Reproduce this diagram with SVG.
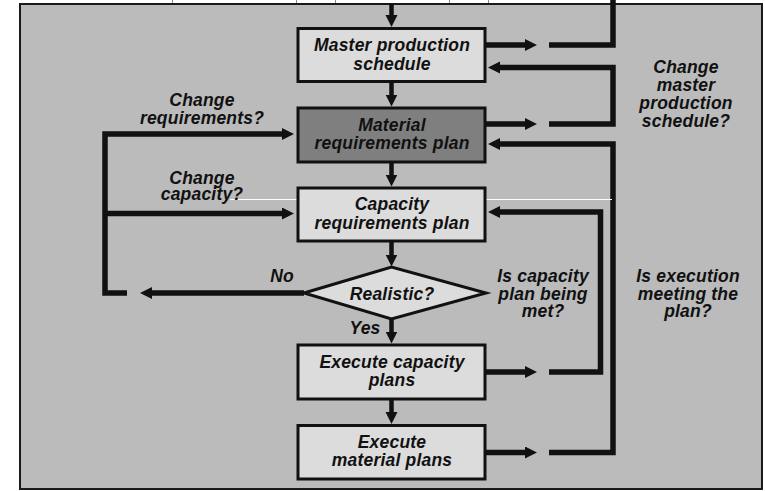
<svg xmlns="http://www.w3.org/2000/svg" width="765" height="491" viewBox="0 0 765 491">
  <style>
    .frame { fill: #bbbbbb; stroke: #1a1a1a; stroke-width: 2; }
    .tick { stroke: #8a8a8a; stroke-width: 1; }
    .box { fill: #dcdcdc; stroke: #111111; stroke-width: 3; }
    .box.dark { fill: #7f7f7f; }
    .flow { fill: none; stroke: #111111; stroke-width: 4.5; }
    .loop { fill: none; stroke: #111111; stroke-width: 5.5; stroke-linejoin: miter; }
    text { font-family: "Liberation Sans", Arial, Helvetica, sans-serif; font-size: 17.5px; font-weight: bold; font-style: italic; fill: #111111; text-anchor: middle; letter-spacing: 0.2px; }
  </style>
  <defs>
    <marker id="head" markerUnits="userSpaceOnUse" markerWidth="13" markerHeight="13" refX="1" refY="6" orient="auto">
      <path d="M0,0 L12,6 L0,12 Z" fill="#111111"/>
    </marker>
  </defs>

  <!-- panel and leftover ruling marks above it -->
  <g id="panel">
    <line class="tick" x1="172.5" y1="0" x2="172.5" y2="4"/>
    <line class="tick" x1="296.5" y1="0" x2="296.5" y2="4"/>
    <line class="tick" x1="335.5" y1="0" x2="335.5" y2="4"/>
    <line class="tick" x1="449.5" y1="0" x2="449.5" y2="4"/>
    <line class="tick" x1="488.5" y1="0" x2="488.5" y2="4"/>
    <rect class="frame" x="20" y="4" width="742" height="485"/>
  </g>

  <!-- connectors -->
  <g id="connectors">
    <!-- main downward flow -->
    <line class="flow" x1="391.5" y1="4" x2="391.5" y2="16" marker-end="url(#head)"/>
    <line class="flow" x1="391.5" y1="82" x2="391.5" y2="95.5" marker-end="url(#head)"/>
    <line class="flow" x1="391.5" y1="162" x2="391.5" y2="175.5" marker-end="url(#head)"/>
    <line class="flow" x1="391.5" y1="241" x2="391.5" y2="255.5" marker-end="url(#head)"/>
    <line class="flow" x1="391.5" y1="319" x2="391.5" y2="332.5" marker-end="url(#head)"/>
    <line class="flow" x1="391.5" y1="399" x2="391.5" y2="413" marker-end="url(#head)"/>

    <!-- outputs to the right -->
    <line class="loop" x1="486" y1="45" x2="526" y2="45" marker-end="url(#head)"/>
    <line class="loop" x1="486" y1="124" x2="526" y2="124" marker-end="url(#head)"/>
    <line class="loop" x1="486" y1="372" x2="526" y2="372" marker-end="url(#head)"/>
    <line class="loop" x1="486" y1="452.5" x2="526" y2="452.5" marker-end="url(#head)"/>

    <!-- upward runs -->
    <path class="loop" d="M549,45 H613 V0"/>
    <path class="loop" d="M549,124 H613 V67.5 H499" marker-end="url(#head)"/>
    <path class="loop" d="M549,452.5 H613 V144 H499" marker-end="url(#head)"/>
    <path class="loop" d="M549,372 H600.5 V212 H499" marker-end="url(#head)"/>

    <!-- "No" branch and return on the left -->
    <line class="loop" x1="304" y1="293" x2="151" y2="293" marker-end="url(#head)"/>
    <path class="loop" d="M127,293 H105 V134 H283" marker-end="url(#head)"/>
    <line class="loop" x1="105" y1="213.5" x2="283" y2="213.5" marker-end="url(#head)"/>
  </g>

  <!-- stray ruling line across the middle -->
  <line x1="230" y1="199.5" x2="612" y2="199.5" stroke="#ffffff" stroke-width="1"/>

  <g id="mps">
    <rect class="box" x="298" y="28.5" width="187" height="53"/>
    <text x="392" y="50.5">Master production</text>
    <text x="392" y="70">schedule</text>
  </g>

  <g id="mrp">
    <rect class="box dark" x="298" y="108" width="187" height="54"/>
    <text x="392" y="130.5">Material</text>
    <text x="392" y="149">requirements plan</text>
  </g>

  <g id="crp">
    <rect class="box" x="298" y="188" width="187" height="53"/>
    <text x="392" y="209.5">Capacity</text>
    <text x="392" y="228.5">requirements plan</text>
  </g>

  <g id="realistic">
    <polygon class="box" points="304,293 391.5,267 486,293 391.5,319"/>
    <text x="392" y="299.5">Realistic?</text>
  </g>

  <g id="exec-capacity">
    <rect class="box" x="298" y="345" width="187" height="54"/>
    <text x="392" y="367.5">Execute capacity</text>
    <text x="392" y="386">plans</text>
  </g>

  <g id="exec-material">
    <rect class="box" x="298" y="425.5" width="187" height="53.5"/>
    <text x="392" y="447.5">Execute</text>
    <text x="392" y="465.5">material plans</text>
  </g>

  <!-- connector labels -->
  <g id="labels">
    <text x="202" y="105.5">Change</text>
    <text x="202" y="123.5">requirements?</text>
    <text x="202" y="183.5">Change</text>
    <text x="202" y="199.5">capacity?</text>
    <text x="282" y="281.5">No</text>
    <text x="365" y="334">Yes</text>
    <text x="686" y="72.5">Change</text>
    <text x="686" y="90.5">master</text>
    <text x="686" y="109">production</text>
    <text x="686" y="127">schedule?</text>
    <text x="543" y="281.5">Is capacity</text>
    <text x="543" y="299.5">plan being</text>
    <text x="543" y="317">met?</text>
    <text x="688" y="281.5">Is execution</text>
    <text x="688" y="299.5">meeting the</text>
    <text x="688" y="317">plan?</text>
  </g>
</svg>
